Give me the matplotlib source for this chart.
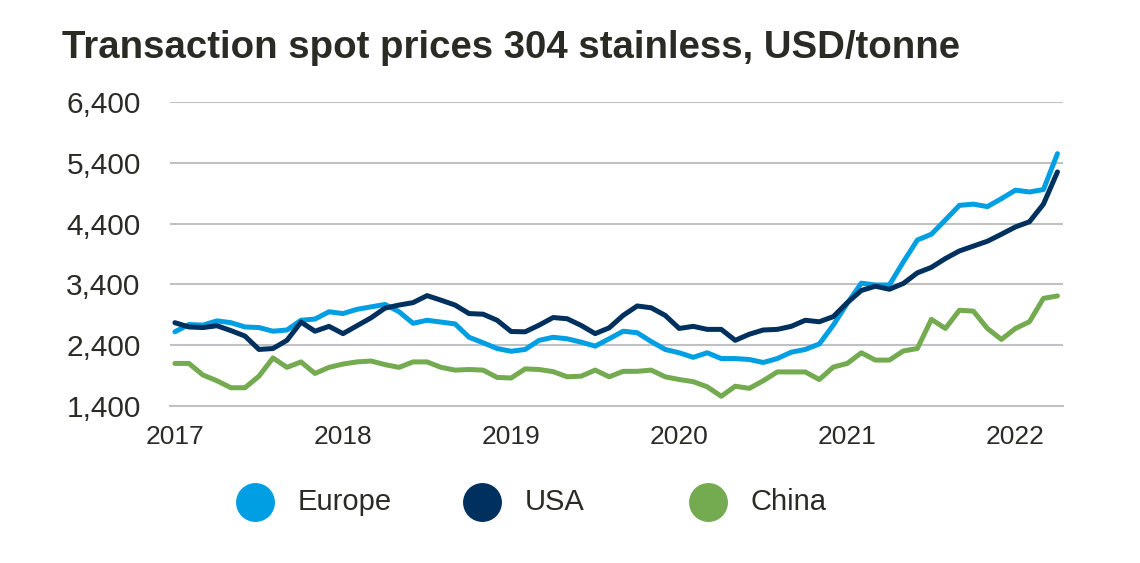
import matplotlib
matplotlib.use("Agg")
import matplotlib.pyplot as plt
from matplotlib.lines import Line2D

# Monthly prices, Jan 2017 - Apr 2022 (USD/tonne)
europe = [2620, 2740, 2730, 2800, 2770, 2700, 2690, 2630, 2650, 2810, 2830, 2950,
          2920, 2990, 3030, 3070, 2950, 2760, 2810, 2780, 2750, 2530, 2440, 2345,
          2300, 2330, 2480, 2530, 2505, 2450, 2385, 2505, 2630, 2605, 2460, 2330,
          2275, 2200, 2275, 2180, 2180, 2165, 2115, 2180, 2285, 2330, 2420, 2730,
          3090, 3420, 3390, 3390, 3770, 4130, 4225, 4460, 4700, 4720, 4680, 4810,
          4950, 4920, 4960, 5550]
usa = [2770, 2700, 2690, 2720, 2640, 2550, 2330, 2345, 2480, 2780, 2630, 2710,
       2590, 2720, 2850, 3010, 3060, 3100, 3215, 3140, 3060, 2920, 2910, 2810,
       2625, 2620, 2730, 2855, 2835, 2725, 2590, 2685, 2890, 3045, 3015, 2890,
       2675, 2710, 2660, 2660, 2480, 2580, 2650, 2660, 2710, 2810, 2785, 2870,
       3100, 3300, 3370, 3320, 3415, 3590, 3680, 3825, 3950, 4030, 4110, 4225,
       4345, 4430, 4720, 5250]
china = [2100, 2100, 1910, 1815, 1700, 1700, 1890, 2190, 2035, 2125, 1935, 2035,
         2090, 2125, 2140, 2080, 2035, 2125, 2125, 2035, 1990, 2000, 1990, 1870,
         1860, 2010, 2000, 1965, 1880, 1890, 1990, 1880, 1970, 1970, 1990, 1880,
         1835, 1800, 1715, 1560, 1725, 1690, 1815, 1960, 1960, 1960, 1835, 2040,
         2100, 2275, 2155, 2155, 2305, 2345, 2825, 2675, 2975, 2960, 2675, 2495,
         2675, 2785, 3170, 3210]

series_names = ["Europe", "USA", "China"]
series_colors = ["#009FE3", "#00305E", "#74AA50"]
year_labels = ["2017", "2018", "2019", "2020", "2021", "2022"]
y_ticks = [1400, 2400, 3400, 4400, 5400, 6400]

text_color = "#2B2B26"
grid_color = "#BFC1C3"
plt.rcParams["font.family"] = ["Liberation Sans", "DejaVu Sans"]

fig = plt.figure(figsize=(11.4, 5.63), dpi=100)
ax = fig.add_axes([0.149, 0.2789, 0.7835, 0.5399])

months = list(range(len(europe)))
for vals, name, col in zip([europe, usa, china], series_names, series_colors):
    ax.plot(months, vals, color=col, lw=3.6, solid_joinstyle="round",
            solid_capstyle="round", label=name, zorder=3)

ax.set_ylim(1400, 6400)
ax.set_xlim(-0.36, 63.4)
ax.set_yticks(y_ticks)
ax.set_yticklabels([f"{v:,}" for v in y_ticks])
ax.set_xticks([12 * i for i in range(len(year_labels))])
ax.set_xticklabels(year_labels)

ax.grid(axis="y", color=grid_color, lw=1.5, zorder=0)
for s in ["top", "right", "left"]:
    ax.spines[s].set_visible(False)
ax.spines["bottom"].set_color(grid_color)
ax.spines["bottom"].set_linewidth(1.5)
ax.tick_params(axis="y", length=0, pad=21, labelsize=21.5, labelcolor=text_color)
ax.tick_params(axis="x", length=0, pad=14, labelsize=19, labelcolor=text_color)

fig.text(0.054, 0.897, "Transaction spot prices 304 stainless, USD/tonne",
         fontsize=27.6, fontweight="bold", color=text_color, va="baseline")

# legend drawn as fixed-width columns like the original
leg_x = [255, 482, 708]
leg_y = 1 - 502 / 563
for px, name, col in zip(leg_x, series_names, series_colors):
    fig.add_artist(Line2D([px / 1140], [leg_y], transform=fig.transFigure,
                          ls="none", marker="o", markersize=27, color=col))
    fig.text((px + 43) / 1140, leg_y, name, fontsize=21, color=text_color,
             va="center", ha="left")

fig.savefig("out.png", dpi=100)
